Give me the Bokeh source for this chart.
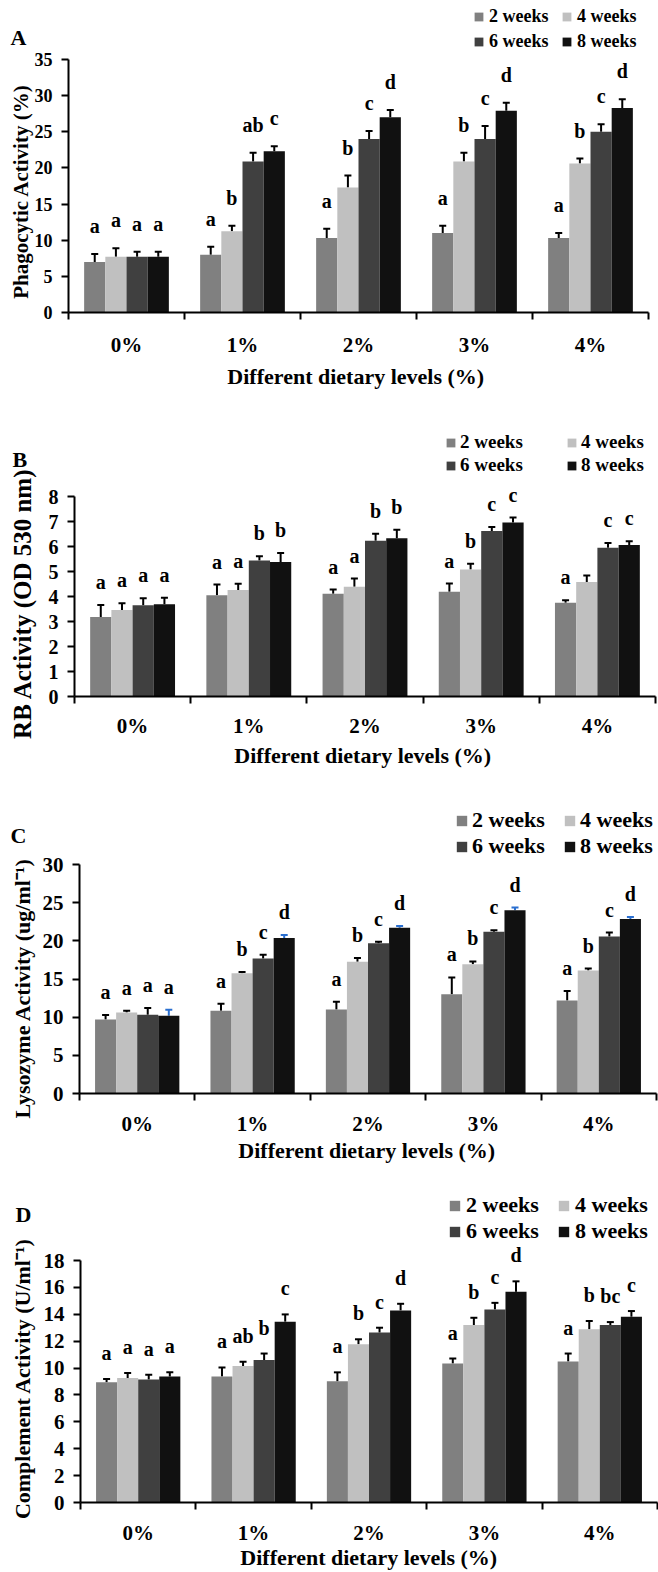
import numpy as np
from bokeh.plotting import figure
from bokeh.layouts import column
from bokeh.models import (Range1d, LinearAxis, FixedTicker, Whisker, TeeHead,
                          LabelSet, Label, Legend, LegendItem, ColumnDataSource)
from bokeh.transform import dodge
from bokeh.embed import file_html
from bokeh.resources import INLINE

CATEGORIES = ["0%", "1%", "2%", "3%", "4%"]
WEEKS = ["2 weeks", "4 weeks", "6 weeks", "8 weeks"]
COLORS = ["#808080", "#c0c0c0", "#404040", "#111111"]
X_TITLE = "Different dietary levels  (%)"

# Panel A - Phagocytic activity (%)
A_MEAN_2W = [7.0, 8.0, 10.3, 11.0, 10.3]
A_MEAN_4W = [7.7, 11.25, 17.3, 20.9, 20.6]
A_MEAN_6W = [7.7, 20.9, 24.0, 24.0, 25.0]
A_MEAN_8W = [7.7, 22.3, 27.0, 27.9, 28.3]
A_ERR_2W = [1.1, 1.1, 1.3, 1.0, 0.7]
A_ERR_4W = [1.2, 0.75, 1.65, 1.2, 0.7]
A_ERR_6W = [0.7, 1.2, 1.1, 1.8, 1.05]
A_ERR_8W = [0.7, 0.7, 1.0, 1.1, 1.2]
A_LET_2W = ["a", "a", "a", "a", "a"]
A_LET_4W = ["a", "b", "b", "b", "b"]
A_LET_6W = ["a", "ab", "c", "c", "c"]
A_LET_8W = ["a", "c", "d", "d", "d"]

# Panel B - RB activity (OD 530 nm)
B_MEAN_2W = [3.18, 4.05, 4.11, 4.19, 3.75]
B_MEAN_4W = [3.46, 4.26, 4.39, 5.08, 4.58]
B_MEAN_6W = [3.65, 5.44, 6.23, 6.62, 5.95]
B_MEAN_8W = [3.69, 5.38, 6.33, 6.96, 6.06]
B_ERR_2W = [0.48, 0.43, 0.17, 0.33, 0.10]
B_ERR_4W = [0.27, 0.25, 0.33, 0.23, 0.26]
B_ERR_6W = [0.28, 0.17, 0.28, 0.16, 0.19]
B_ERR_8W = [0.26, 0.36, 0.34, 0.20, 0.15]
B_LET_2W = ["a", "a", "a", "a", "a"]
B_LET_4W = ["a", "a", "a", "b", ""]
B_LET_6W = ["a", "b", "b", "c", "c"]
B_LET_8W = ["a", "b", "b", "c", "c"]

# Panel C - Lysozyme activity
C_MEAN_2W = [9.69, 10.85, 11.02, 13.0, 12.18]
C_MEAN_4W = [10.6, 15.76, 17.26, 16.92, 16.1]
C_MEAN_6W = [10.33, 17.7, 19.67, 21.18, 20.58]
C_MEAN_8W = [10.2, 20.36, 21.7, 24.02, 22.86]
C_ERR_2W = [0.6, 0.9, 1.0, 2.2, 1.25]
C_ERR_4W = [0.25, 0.17, 0.5, 0.38, 0.26]
C_ERR_6W = [0.87, 0.47, 0.22, 0.22, 0.5]
C_ERR_8W = [0.78, 0.39, 0.25, 0.34, 0.26]
C_LET_2W = ["a", "a", "a", "a", "a"]
C_LET_4W = ["a", "b", "b", "b", "b"]
C_LET_6W = ["a", "c", "c", "c", "c"]
C_LET_8W = ["a", "d", "d", "d", "d"]

# Panel D - Complement activity
D_MEAN_2W = [8.94, 9.38, 9.01, 10.34, 10.49]
D_MEAN_4W = [9.26, 10.15, 11.77, 13.2, 12.88]
D_MEAN_6W = [9.14, 10.59, 12.64, 14.36, 13.2]
D_MEAN_8W = [9.38, 13.45, 14.29, 15.67, 13.82]
D_ERR_2W = [0.25, 0.67, 0.67, 0.37, 0.59]
D_ERR_4W = [0.37, 0.32, 0.37, 0.54, 0.62]
D_ERR_6W = [0.36, 0.49, 0.36, 0.49, 0.22]
D_ERR_8W = [0.30, 0.54, 0.49, 0.78, 0.42]
D_LET_2W = ["a", "a", "a", "a", "a"]
D_LET_4W = ["a", "ab", "b", "b", "b"]
D_LET_6W = ["a", "b", "c", "c", "bc"]
D_LET_8W = ["a", "c", "d", "d", "c"]

FONT = "Liberation Serif"
BAR_W = 0.1826
OFFSETS = [-1.5 * BAR_W, -0.5 * BAR_W, 0.5 * BAR_W, 1.5 * BAR_W]
W = 658


def make_panel(tag, means, errs, lets, ymax, ystep, ytitle, cfg):
    H = cfg["H"]
    n = len(CATEGORIES)
    axl, axr, axt, axb = cfg["axes_box"]   # pixel box of the plotting axes
    px_x = (axr - axl) / n
    px_y = (axb - axt) / ymax
    x_rng = Range1d(-axl / px_x, n + (W - axr) / px_x)
    y_rng = Range1d(-(H - axb) / px_y, ymax + axt / px_y)

    p = figure(width=W, height=H, x_range=x_rng, y_range=y_rng, output_backend="svg",
               toolbar_location=None, x_axis_type=None, y_axis_type=None,
               min_border_left=0, min_border_right=0, min_border_top=0, min_border_bottom=0)
    p.outline_line_color = None
    p.background_fill_color = "white"
    p.border_fill_color = "white"

    centers = list(np.arange(n) + 0.5)
    bounds = list(range(n + 1))

    yax = LinearAxis(ticker=FixedTicker(ticks=list(range(0, ymax + 1, ystep)), minor_ticks=[]),
                     fixed_location=0, bounds=(0, ymax))
    yax.axis_line_width = 2
    yax.major_tick_line_width = 2
    yax.major_tick_in = 0
    yax.major_tick_out = 7
    yax.minor_tick_line_color = None
    yax.major_label_standoff = 9
    yax.major_label_text_font = FONT
    yax.major_label_text_font_style = "bold"
    yax.major_label_text_font_size = cfg["ytick_fs"]
    yax.major_label_text_color = "black"
    p.add_layout(yax, "left")

    xax = LinearAxis(ticker=FixedTicker(ticks=centers, minor_ticks=bounds),
                     fixed_location=0, bounds=(0, n),
                     major_label_overrides={c: lab for c, lab in zip(centers, CATEGORIES)})
    xax.axis_line_width = 2
    xax.major_tick_line_color = None
    xax.major_tick_in = 0
    xax.major_tick_out = 0
    xax.minor_tick_line_width = 2
    xax.minor_tick_line_color = "black"
    xax.minor_tick_in = 0
    xax.minor_tick_out = 7
    xax.major_label_standoff = cfg["xlab_so"]
    xax.major_label_text_font = FONT
    xax.major_label_text_font_style = "bold"
    xax.major_label_text_font_size = "21px"
    xax.major_label_text_color = "black"
    p.add_layout(xax, "below")

    items = []
    for k in range(4):
        val = np.array(means[k])
        top = val + np.array(errs[k])
        src = ColumnDataSource(dict(x=centers, val=val, top=top, lab=lets[k]))
        r = p.vbar(x=dodge("x", OFFSETS[k]), top="val", bottom=0, width=BAR_W,
                   fill_color=COLORS[k], line_color=None, source=src)
        items.append(LegendItem(label=WEEKS[k], renderers=[r]))
        ecol = cfg.get("err_colors", ["black"] * 4)[k]
        w = Whisker(base=dodge("x", OFFSETS[k]), lower="val", upper="top", source=src,
                    lower_head=None,
                    upper_head=TeeHead(size=7, line_width=2, line_color=ecol),
                    line_width=2, line_color=ecol)
        p.add_layout(w)
        ls = LabelSet(x=dodge("x", OFFSETS[k]), y="top", text="lab", source=src,
                      y_offset=cfg["let_off"], text_align="center",
                      text_baseline="alphabetic", text_font=FONT,
                      text_font_style="bold", text_font_size="20px",
                      text_color="black")
        p.add_layout(ls)

    leg = Legend(items=items, orientation="horizontal", ncols=2,
                 location=cfg["leg_loc"], glyph_width=cfg["leg_gw"], glyph_height=cfg["leg_gw"],
                 label_standoff=cfg["leg_st"], label_width=cfg["leg_lw"],
                 label_height=cfg["leg_lh"], spacing=cfg["leg_sp"], padding=0, margin=0,
                 border_line_color=None, background_fill_alpha=0,
                 label_text_font=FONT, label_text_font_style="bold",
                 label_text_font_size=cfg["leg_fs"], label_text_color="black")
    p.add_layout(leg)

    # panel tag
    p.add_layout(Label(x=cfg["tag_xy"][0], y=cfg["tag_xy"][1], x_units="screen",
                       y_units="screen", text=tag, text_font=FONT, text_font_style="bold",
                       text_font_size="22px", text_color="black",
                       text_baseline="alphabetic"))
    # y-axis title
    p.add_layout(Label(x=cfg["ytitle_xy"][0], y=cfg["ytitle_xy"][1], x_units="screen",
                       y_units="screen", text=ytitle, angle=np.pi / 2, text_font=FONT,
                       text_font_style="bold", text_font_size=cfg["ytitle_fs"],
                       text_color="black", text_align="center", text_baseline="middle"))
    # x-axis title
    p.add_layout(Label(x=cfg["xtitle_xy"][0], y=cfg["xtitle_xy"][1], x_units="screen",
                       y_units="screen", text=X_TITLE, text_font=FONT,
                       text_font_style="bold", text_font_size="22px",
                       text_color="black", text_align="center", text_baseline="middle"))
    return p


cfgA = dict(H=390, axes_box=(68, 648, 59, 312), ytick_fs="18px", ytitle_fs="21px",
            ytitle_xy=(20, 199), xtitle_xy=(358, 14), xlab_so=13, let_off=21,
            leg_loc=(473, 338), leg_gw=11, leg_st=5, leg_lw=68, leg_lh=21, leg_sp=4,
            leg_fs="18px", tag_xy=(10, 353))
cfgB = dict(H=390, axes_box=(74, 655, 106, 306), ytick_fs="20px", ytitle_fs="25px",
            ytitle_xy=(22, 177), xtitle_xy=(365, 25), xlab_so=10, let_off=16,
            leg_loc=(445, 304), leg_gw=11, leg_st=4, leg_lw=105, leg_lh=21, leg_sp=1,
            leg_fs="19px", tag_xy=(12, 321))
cfgC = dict(H=400, axes_box=(79, 656, 84, 313), ytick_fs="21px", ytitle_fs="22px",
            ytitle_xy=(22, 195), xtitle_xy=(369, 30), xlab_so=11, let_off=16,
            leg_loc=(455, 321), leg_gw=13, leg_st=4, leg_lw=91, leg_lh=24, leg_sp=-3,
            leg_fs="22px", tag_xy=(10, 345),
            err_colors=["black", "black", "black", "#2a6fd0"])
cfgD = dict(H=392, axes_box=(80, 657, 80, 322), ytick_fs="21px", ytitle_fs="22px",
            ytitle_xy=(22, 194), xtitle_xy=(371, 15), xlab_so=11, let_off=19,
            leg_loc=(448, 328), leg_gw=13, leg_st=5, leg_lw=91, leg_lh=24, leg_sp=0,
            leg_fs="22px", tag_xy=(15, 358))

pA = make_panel("A", [A_MEAN_2W, A_MEAN_4W, A_MEAN_6W, A_MEAN_8W],
                [A_ERR_2W, A_ERR_4W, A_ERR_6W, A_ERR_8W],
                [A_LET_2W, A_LET_4W, A_LET_6W, A_LET_8W], 35, 5,
                "Phagocytic Activity (%)", cfgA)
pB = make_panel("B", [B_MEAN_2W, B_MEAN_4W, B_MEAN_6W, B_MEAN_8W],
                [B_ERR_2W, B_ERR_4W, B_ERR_6W, B_ERR_8W],
                [B_LET_2W, B_LET_4W, B_LET_6W, B_LET_8W], 8, 1,
                "RB Activity (OD 530 nm)", cfgB)
pC = make_panel("C", [C_MEAN_2W, C_MEAN_4W, C_MEAN_6W, C_MEAN_8W],
                [C_ERR_2W, C_ERR_4W, C_ERR_6W, C_ERR_8W],
                [C_LET_2W, C_LET_4W, C_LET_6W, C_LET_8W], 30, 5,
                "Lysozyme  Activity (ug/ml\u207b\u00b9)", cfgC)
pD = make_panel("D", [D_MEAN_2W, D_MEAN_4W, D_MEAN_6W, D_MEAN_8W],
                [D_ERR_2W, D_ERR_4W, D_ERR_6W, D_ERR_8W],
                [D_LET_2W, D_LET_4W, D_LET_6W, D_LET_8W], 18, 2,
                "Complement Activity (U/ml\u207b\u00b9)", cfgD)

layout = column(pA, pB, pC, pD, spacing=0)
open("out.html", "w").write(file_html(layout, INLINE))
